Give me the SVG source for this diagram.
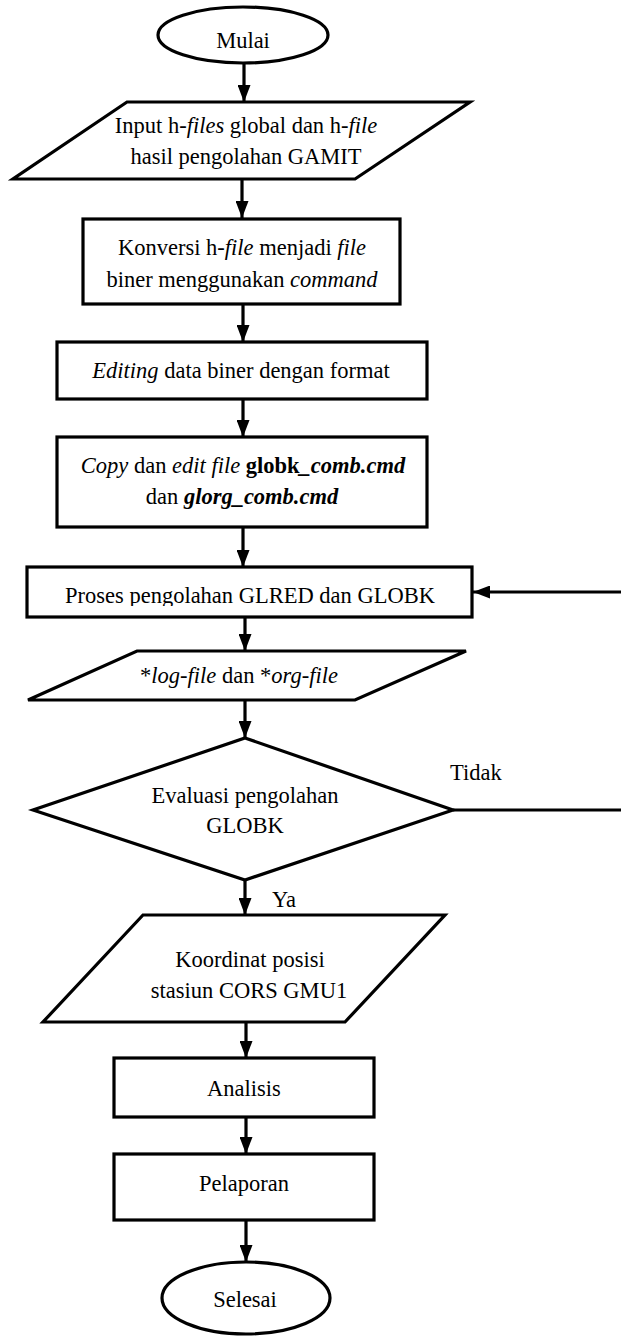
<svg xmlns="http://www.w3.org/2000/svg" width="621" height="1336" viewBox="0 0 621 1336" font-family="Liberation Serif" font-size="22.5">
<style>
.s{fill:#fff;stroke:#000;stroke-width:3.2}
.c{fill:none;stroke:#000;stroke-width:3.2}
.m{text-anchor:middle}
.i{font-style:italic}
.b{font-weight:bold}
</style>
<defs>
<marker id="ah" viewBox="0 0 17 13" markerWidth="17" markerHeight="13" refX="17" refY="6.5" orient="auto" markerUnits="userSpaceOnUse">
<path d="M0,0 L17,6.5 L0,13 z" fill="#000"/>
</marker>
<clipPath id="cp5"><rect x="27" y="567" width="445" height="39"/></clipPath>
</defs>
<rect width="621" height="1336" fill="#fff"/>

<g id="connectors">
<line class="c" x1="244" y1="63" x2="244" y2="102" marker-end="url(#ah)"/>
<line class="c" x1="242" y1="179" x2="242" y2="218" marker-end="url(#ah)"/>
<line class="c" x1="243" y1="304" x2="243" y2="342" marker-end="url(#ah)"/>
<line class="c" x1="243" y1="399" x2="243" y2="437" marker-end="url(#ah)"/>
<line class="c" x1="243" y1="527" x2="243" y2="567" marker-end="url(#ah)"/>
<line class="c" x1="245" y1="617" x2="245" y2="651" marker-end="url(#ah)"/>
<line class="c" x1="245" y1="700" x2="245" y2="738" marker-end="url(#ah)"/>
<line class="c" x1="245" y1="880" x2="245" y2="915" marker-end="url(#ah)"/>
<line class="c" x1="246" y1="1022" x2="246" y2="1058" marker-end="url(#ah)"/>
<line class="c" x1="246" y1="1117" x2="246" y2="1154" marker-end="url(#ah)"/>
<line class="c" x1="246" y1="1220" x2="246" y2="1262" marker-end="url(#ah)"/>
<path class="c" d="M453,810 H623 V592 H473" marker-end="url(#ah)"/>
<text x="450" y="780">Tidak</text>
<text x="272" y="907">Ya</text>
</g>

<g id="mulai">
<ellipse class="s" cx="243" cy="35" rx="85" ry="28"/>
<text class="m" x="243" y="48">Mulai</text>
</g>

<g id="input">
<polygon class="s" points="127,102 470,102 355,179 13,179"/>
<text class="m" x="246" y="133">Input h-<tspan class="i">files</tspan> global dan h-<tspan class="i">file</tspan></text>
<text class="m" x="246" y="164">hasil pengolahan GAMIT</text>
</g>

<g id="konversi">
<rect class="s" x="83" y="219" width="317" height="85"/>
<text class="m" x="242" y="255">Konversi h-<tspan class="i">file</tspan> menjadi <tspan class="i">file</tspan></text>
<text class="m" x="242" y="287">biner menggunakan <tspan class="i">command</tspan></text>
</g>

<g id="editing">
<rect class="s" x="57" y="342" width="370" height="57"/>
<text class="m" x="241" y="378"><tspan class="i">Editing</tspan> data biner dengan format</text>
</g>

<g id="copy">
<rect class="s" x="57" y="437" width="370" height="90"/>
<text class="m" x="243" y="473"><tspan class="i">Copy</tspan> dan <tspan class="i">edit file</tspan> <tspan class="b">globk</tspan><tspan class="b i">_comb.cmd</tspan></text>
<text class="m" x="242" y="504">dan <tspan class="b i">glorg_comb.cmd</tspan></text>
</g>

<g id="proses">
<rect class="s" x="27" y="567" width="445" height="50"/>
<text class="m" x="250" y="603" clip-path="url(#cp5)">Proses pengolahan GLRED dan GLOBK</text>
</g>

<g id="logfile">
<polygon class="s" points="137,651 466,651 355,700 28,700"/>
<text class="m" x="239" y="683">*<tspan class="i">log-file</tspan> dan *<tspan class="i">org-file</tspan></text>
</g>

<g id="evaluasi">
<polygon class="s" points="245,738 453,810 245,880 33,810"/>
<text class="m" x="245" y="803">Evaluasi pengolahan</text>
<text class="m" x="245" y="833">GLOBK</text>
</g>

<g id="koordinat">
<polygon class="s" points="143,915 445,915 345,1022 43,1022"/>
<text class="m" x="250" y="967">Koordinat posisi</text>
<text class="m" x="249" y="998">stasiun CORS GMU1</text>
</g>

<g id="analisis">
<rect class="s" x="114" y="1058" width="260" height="59"/>
<text class="m" x="244" y="1096">Analisis</text>
</g>

<g id="pelaporan">
<rect class="s" x="114" y="1154" width="260" height="66"/>
<text class="m" x="244" y="1191">Pelaporan</text>
</g>

<g id="selesai">
<ellipse class="s" cx="246" cy="1298" rx="84" ry="36"/>
<text class="m" x="245" y="1307">Selesai</text>
</g>
</svg>
